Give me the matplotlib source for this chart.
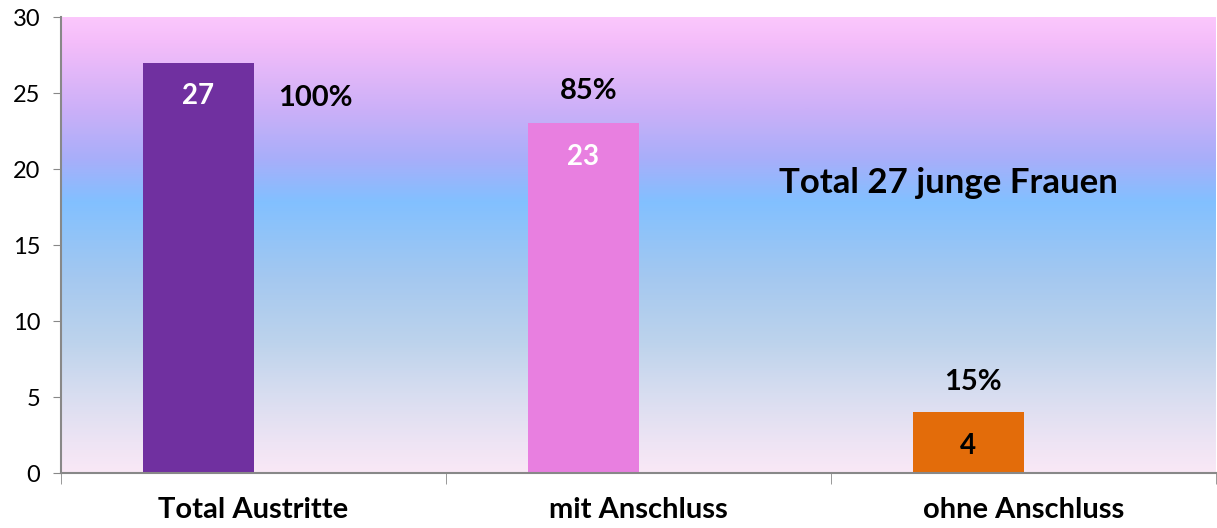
import numpy as np
import matplotlib
matplotlib.use("Agg")
import matplotlib.pyplot as plt
from matplotlib.colors import LinearSegmentedColormap

plt.rcParams['font.family'] = ['Lato', 'DejaVu Sans']

# data
categories = ["Total Austritte", "mit Anschluss", "ohne Anschluss"]
counts = [27, 23, 4]
percent_labels = ["100%", "85%", "15%"]
bar_colors = ["#7030A0", "#E87FE0", "#E36C0A"]
count_colors = ["white", "white", "black"]
# where Excel put the percentage labels (data coords)
percent_pos = [(0.16, 24.7), (0.87, 25.1), (1.87, 6.0)]
note_text = "Total 27 junge Frauen"

fig = plt.figure(figsize=(12.17, 5.28), dpi=100)
ax = fig.add_axes([61/1217, 55/528, 1155/1217, 456/528])

# vertical gradient background (bottom -> top)
grad_stops = [(0.0, "#F9E8F6"), (0.066, "#EEE4F4"), (0.175, "#D7DDF0"),
              (0.285, "#BDD3EC"), (0.43, "#A4C8F0"), (0.595, "#82C0FF"),
              (0.69, "#A8AEFA"), (0.80, "#CCB0F8"), (0.945, "#F4BDFA"),
              (1.0, "#FBC7FC")]
cmap = LinearSegmentedColormap.from_list("bg", grad_stops)
grad = np.linspace(0, 1, 512).reshape(-1, 1)
ax.imshow(grad, cmap=cmap, aspect="auto", origin="lower",
          extent=[-0.5, 2.5, 0, 30], zorder=0)

x = np.arange(len(categories))
bar_w = 0.286
ax.bar(x, counts, width=-bar_w, align="edge", color=bar_colors, zorder=2)

for i, v in enumerate(counts):
    ax.annotate(str(v), (x[i] - bar_w / 2, v), xytext=(0, -24),
                textcoords="offset points", ha="center", va="center",
                fontsize=20, fontweight="bold", color=count_colors[i], zorder=3)

for lbl, (px, py) in zip(percent_labels, percent_pos):
    ax.text(px, py, lbl, ha="center", va="center", fontsize=21,
            fontweight="bold", color="black", zorder=3)

ax.text(1.804, 19.1, note_text, ha="center", va="center", fontsize=25,
        fontweight="bold", color="black", zorder=3)

ax.set_xlim(-0.5, 2.5)
ax.set_ylim(0, 30)
ax.set_yticks(range(0, 31, 5))
ax.tick_params(axis="y", labelsize=17, length=6, color="#888888", pad=9)
ax.set_xticks(x)
ax.set_xticklabels(categories, fontsize=21, fontweight="bold")
ax.tick_params(axis="x", length=0, pad=17)
ax.set_xticks([-0.5, 0.5, 1.5, 2.5], minor=True)
ax.tick_params(axis="x", which="minor", length=8, color="#888888")

for side in ["top", "right"]:
    ax.spines[side].set_visible(False)
for side in ["left", "bottom"]:
    ax.spines[side].set_color("#888888")
    ax.spines[side].set_linewidth(1.5)

fig.savefig("out.png", dpi=100)
